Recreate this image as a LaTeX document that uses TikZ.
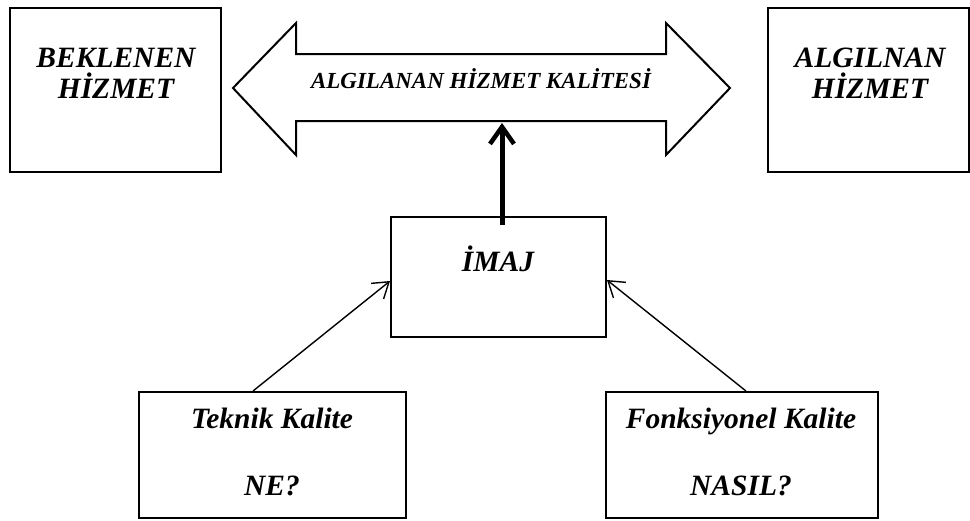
\documentclass[tikz,border=0pt]{standalone}
\usepackage{fontspec}
\setmainfont{Liberation Serif}
\usetikzlibrary{arrows.meta,calc}

\tikzset{
  box/.style={draw=black, line width=2pt, rectangle, inner sep=0pt},
  lbl/.style={font=\bfseries\itshape\fontsize{29.5}{31}\selectfont, align=center, inner sep=0pt, anchor=base},
  qlbl/.style={font=\bfseries\itshape\fontsize{23}{26}\selectfont, inner sep=0pt, anchor=base},
  thinarrow/.style={line width=1.4pt, -{Straight Barb[length=15pt,width=20pt,line width=1.4pt]}},
  thickarrow/.style={line width=5pt, -{Straight Barb[length=17pt,width=24pt,line width=4.5pt]}},
  bigarrow/.style={draw=black, line width=2pt, line join=miter, fill=white}
}

\begin{document}
\begin{tikzpicture}[x=1pt,y=-1pt]
  \useasboundingbox (0,0) rectangle (970,520);

  % outer boxes: expected and perceived service
  \node[box, minimum width=211pt, minimum height=164pt] (lbox) at (115.5,90) {};
  \node[lbl] (ltext) at (116,98) {BEKLENEN\\H\.IZMET};
  \node[box, minimum width=201pt, minimum height=164pt] (rbox) at (868.5,90) {};
  \node[lbl] (rtext) at (870,98) {ALGILNAN\\H\.IZMET};

  % double-headed block arrow for perceived service quality
  \draw[bigarrow] (233,88) -- (296,23) -- (296,54) -- (666,54) -- (666,23)
    -- (730,88) -- (666,155) -- (666,121) -- (296,121) -- (296,155) -- cycle;
  \node[qlbl] (qual) at (481,88) {ALGILANAN H\.IZMET KAL\.ITES\.I};
  \coordinate (qualbot) at (502,123);

  % image box
  \node[box, minimum width=215pt, minimum height=120pt] (imaj) at (498.5,277) {};
  \node[lbl] (imajtext) at (498,271) {\.IMAJ};

  % technical and functional quality boxes
  \node[box, minimum width=267pt, minimum height=126pt] (tbox) at (272.5,455) {};
  \node[lbl, font=\bfseries\itshape\fontsize{29.5}{67}\selectfont] (ttext) at (272,495) {Teknik Kalite\\NE?};
  \node[box, minimum width=272pt, minimum height=126pt] (fbox) at (742,455) {};
  \node[lbl, font=\bfseries\itshape\fontsize{29.5}{67}\selectfont] (ftext) at (741,495) {Fonksiyonel Kalite\\NASIL?};

  % connectors
  \draw[thickarrow] ([xshift=3.5pt,yshift=-9pt]imaj.north) -- (qualbot);
  \draw[thinarrow] ([xshift=-19.5pt]tbox.north) -- ([yshift=-4pt]imaj.west);
  \draw[thinarrow] ([xshift=4pt]fbox.north) -- ([yshift=-3pt]imaj.east);
\end{tikzpicture}
\end{document}
